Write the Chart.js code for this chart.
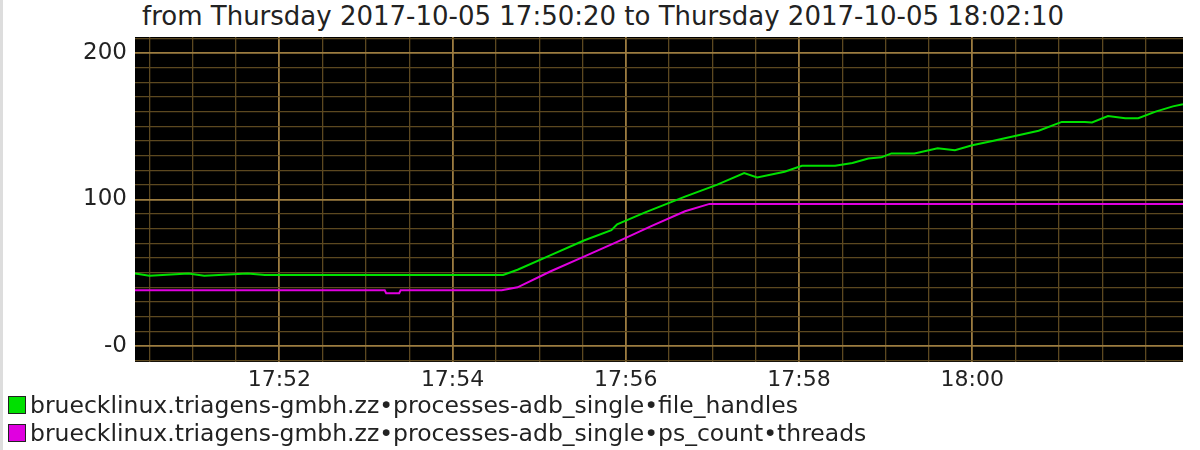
<!DOCTYPE html>
<html><head><meta charset="utf-8">
<script src="https://cdn.jsdelivr.net/npm/chart.js@4"></script>
<style>
body{margin:0;width:1200px;height:450px;background:#fff;font-family:"DejaVu Sans",sans-serif;overflow:hidden;position:relative;border-left:3px solid #ddd;box-sizing:border-box}
#title{position:absolute;top:1px;left:0;width:1200px;text-align:center;font-size:26px;color:#222;white-space:nowrap}
#wrap{position:absolute;left:0;top:0;width:1200px;height:400px}
#legend{position:absolute;left:5px;top:391px;font-size:23.5px;color:#222;line-height:28px;white-space:nowrap}
.sw{display:inline-block;width:16px;height:16px;border:1.5px solid #222;margin-right:4px;vertical-align:-1px}
</style></head><body>
<div id="title">from Thursday 2017-10-05 17:50:20 to Thursday 2017-10-05 18:02:10</div>
<div id="wrap"><canvas id="c"></canvas></div>
<div id="legend">
<div><span class="sw" style="background:#00e000"></span>bruecklinux.triagens-gmbh.zz•processes-adb_single•file_handles</div>
<div><span class="sw" style="background:#e000e0"></span>bruecklinux.triagens-gmbh.zz•processes-adb_single•ps_count•threads</div>
</div>
<script>
// seconds since 17:50:20
const fileHandlesT = [0,10,37,48,78,90,255,265,288,311,330,334,353,381,403,422,431,450,462,485,497,508,517,524,540,556,568,580,594,608,626,642,658,663,674,686,695,707,719,726];
const fileHandlesV = [49.5,48,49.5,48,49.5,48.5,48.5,52,62,72,79,83,91,102,110,118,115,119,123,123,125,128,128.8,131.5,131.5,135,133.6,137,140,143,147,153,153,152.6,157,155.5,155.5,160,163.6,165];
const threadsT = [0,173,174,183,184,254,265,288,311,334,358,381,398,726];
const threadsV = [38,38,36,36,38,38,40,51,61,71,82,92,97,97];
const startSec = 17*3600+50*60+20;
function fmt(t){const s=startSec+t;const h=Math.floor(s/3600),m=Math.floor(s%3600/60);return String(h).padStart(2,'0')+':'+String(m).padStart(2,'0');}
const bg={id:'bg',beforeDraw(ch){const a=ch.chartArea,c=ch.ctx;c.save();c.fillStyle='#000';c.fillRect(a.left,a.top,a.right-a.left,a.bottom-a.top);c.restore();}};
const isMajX=v=>(v-100)%120===0 && v<700;
new Chart(document.getElementById('c'),{
 type:'line',
 data:{datasets:[
  {data:fileHandlesT.map((t,i)=>({x:t,y:fileHandlesV[i]})),borderColor:'#00e000',borderWidth:2,pointRadius:0,tension:0},
  {data:threadsT.map((t,i)=>({x:t,y:threadsV[i]})),borderColor:'#e000e0',borderWidth:2,pointRadius:0,tension:0}
 ]},
 options:{responsive:true,maintainAspectRatio:false,animation:false,
  layout:{padding:{top:37,right:20,left:0,bottom:0}},
  plugins:{legend:{display:false},tooltip:{enabled:false}},
  scales:{
   x:{type:'linear',min:0,max:726,
    afterBuildTicks(ax){const t=[];for(let v=10;v<=726;v+=30)t.push({value:v});ax.ticks=t;},
    afterFit(ax){ax.height=38;},
    ticks:{autoSkip:false,maxRotation:0,color:'#222',font:{family:'DejaVu Sans',size:22},padding:5,
      callback:(v)=>(isMajX(v)?fmt(v):'')},
    grid:{drawTicks:false,color:(c)=>(isMajX(c.tick.value)?'#9c7c40':'#5c4820'),lineWidth:(c)=>(isMajX(c.tick.value)?1.8:1.3)},
    border:{display:false}},
   y:{min:-11,max:211,
    afterBuildTicks(ax){const t=[];for(let v=-10;v<=210;v+=10)t.push({value:v});ax.ticks=t;},
    afterFit(ax){ax.width=132;},
    ticks:{autoSkip:false,color:'#222',font:{family:'DejaVu Sans',size:23},padding:8,
      callback:(v)=>(v===0?'-0':(v%100===0?String(v):''))},
    grid:{drawTicks:false,color:(c)=>(c.tick.value%100===0?'#9c7c40':'#5c4820'),lineWidth:(c)=>(c.tick.value%100===0?1.8:1.3)},
    border:{display:false}}
  }},
 plugins:[bg]
});
</script></body></html>
